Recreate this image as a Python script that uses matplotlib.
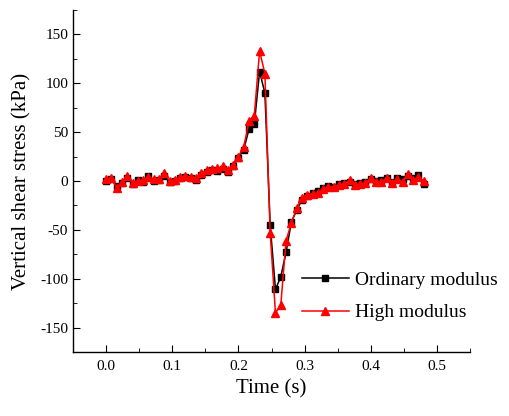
import numpy as np
import matplotlib
matplotlib.use('Agg')
from matplotlib import pyplot as plt
from matplotlib.ticker import MultipleLocator

plt.rcParams['font.family'] = ['Liberation Serif', 'DejaVu Serif']
plt.rcParams['axes.unicode_minus'] = False

# time sampled every 0.008 s, 0 .. 0.48
time = np.arange(61) * 0.008

ordinary = [0, 2, -5, -2, 3, -3, 1, -1, 5, 0,
            1, 5, -1, 0, 3, 4, 3, 1, 6, 9,
            11, 10, 12, 9, 15, 24, 32, 53, 58, 112,
            90, -45, -111, -98, -73, -42, -30, -19, -15, -12,
            -10, -7, -5, -6, -3, -2, -1, -3, -2, -1,
            2, 0, 1, 3, -1, 3, 2, 5, 3, 6, -3]

high = [2, 3, -7, -1, 5, -2, 0, 1, 4, 2,
        2, 8, 0, 1, 4, 5, 4, 3, 8, 11,
        12, 13, 15, 11, 16, 25, 35, 61, 67, 133,
        110, -53, -135, -127, -61, -43, -28, -17, -14, -13,
        -12, -8, -6, -6, -4, -3, 1, -4, -3, -2,
        3, -1, -1, 3, -2, 2, -1, 7, 1, 4, 0]

fig = plt.figure(figsize=(5.09, 4.16), dpi=100)
ax = fig.add_axes([0.1434, 0.1538, 0.78, 0.8222])

ax.plot(time, ordinary, color='black', marker='s', markersize=4.5, lw=1.1,
        label='Ordinary modulus')
ax.plot(time, high, color='red', marker='^', markersize=6, lw=1.1,
        label='High modulus')

ax.set_xlim(-0.05, 0.55)
ax.set_ylim(-175, 175)
ax.xaxis.set_major_locator(MultipleLocator(0.1))
ax.xaxis.set_minor_locator(MultipleLocator(0.05))
ax.yaxis.set_major_locator(MultipleLocator(50))
ax.yaxis.set_minor_locator(MultipleLocator(25))
ax.xaxis.set_major_formatter(matplotlib.ticker.FormatStrFormatter('%.1f'))

for s in ['top', 'right']:
    ax.spines[s].set_visible(False)
for s in ['left', 'bottom']:
    ax.spines[s].set_linewidth(1.0)
ax.tick_params(which='both', direction='in', labelsize=11)
ax.tick_params(which='major', length=5)
ax.tick_params(which='minor', length=3)
ax.tick_params(axis='x', pad=6)

ax.set_xlabel('Time (s)', fontsize=15)
ax.set_ylabel('Vertical shear stress (kPa)', fontsize=15, labelpad=6)

ax.legend(loc='upper left', frameon=False, fontsize=14, handlelength=2.4,
          handletextpad=0.3, labelspacing=0.75, borderpad=0, borderaxespad=0,
          bbox_to_anchor=(0.577, 0.235))

fig.savefig('out.png', dpi=100)
